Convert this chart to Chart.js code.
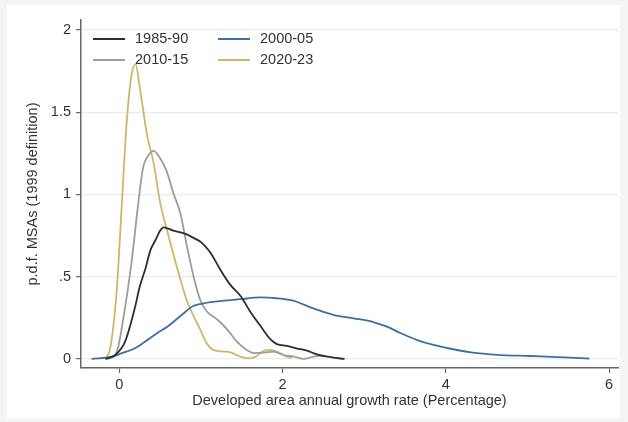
<!DOCTYPE html>
<html>
<head>
<meta charset="utf-8">
<script src="https://cdn.jsdelivr.net/npm/chart.js@4.4.1/dist/chart.umd.min.js"></script>
<style>
  html, body { margin: 0; padding: 0; background: #f4f4f4; }
  #wrap { width: 628px; height: 422px; }
</style>
</head>
<body>
<div id="wrap"><canvas id="c" width="628" height="422"></canvas></div>
<script>
// Kernel density of developed-area annual growth rate, by period
const periods = ['1985-90', '2000-05', '2010-15', '2020-23'];

const x1985 = [-0.17, -0.05, 0.07, 0.19, 0.25, 0.32, 0.38, 0.44, 0.50, 0.54, 0.66, 0.81, 0.93, 1.00, 1.11, 1.24, 1.36, 1.49, 1.60, 1.73, 1.85, 1.93, 2.05, 2.17, 2.30, 2.42, 2.55, 2.76];
const d1985 = [0, 0.024, 0.105, 0.31, 0.44, 0.55, 0.66, 0.72, 0.78, 0.80, 0.78, 0.76, 0.73, 0.71, 0.65, 0.54, 0.45, 0.38, 0.29, 0.20, 0.12, 0.09, 0.08, 0.065, 0.05, 0.028, 0.014, 0];

const x2000 = [-0.34, -0.09, 0.03, 0.19, 0.30, 0.46, 0.60, 0.77, 0.90, 1.00, 1.20, 1.48, 1.73, 1.93, 2.14, 2.26, 2.42, 2.63, 2.87, 3.12, 3.28, 3.45, 3.65, 3.85, 4.06, 4.31, 4.63, 5.04, 5.45, 5.76];
const d2000 = [0, 0.014, 0.035, 0.065, 0.10, 0.156, 0.20, 0.27, 0.32, 0.335, 0.35, 0.363, 0.374, 0.369, 0.353, 0.33, 0.30, 0.267, 0.247, 0.223, 0.196, 0.156, 0.115, 0.085, 0.062, 0.04, 0.025, 0.018, 0.01, 0.002];

const x2010 = [-0.17, -0.08, -0.02, 0.03, 0.15, 0.23, 0.29, 0.36, 0.42, 0.50, 0.58, 0.66, 0.75, 0.83, 0.91, 0.99, 1.07, 1.20, 1.32, 1.44, 1.56, 1.65, 1.77, 1.89, 2.01, 2.14, 2.26, 2.38, 2.50];
const d2010 = [0, 0.01, 0.06, 0.19, 0.59, 0.94, 1.16, 1.24, 1.265, 1.22, 1.14, 1.01, 0.88, 0.68, 0.50, 0.36, 0.29, 0.24, 0.18, 0.105, 0.055, 0.035, 0.038, 0.045, 0.024, 0.014, 0, 0.014, 0.02];

const x2020 = [-0.17, -0.11, -0.03, 0.03, 0.09, 0.15, 0.20, 0.25, 0.34, 0.42, 0.50, 0.58, 0.66, 0.75, 0.83, 0.91, 0.99, 1.07, 1.15, 1.28, 1.36, 1.48, 1.60, 1.67, 1.77, 1.85, 1.93, 2.05, 2.11];
const d2020 = [0, 0.07, 0.43, 0.94, 1.44, 1.73, 1.79, 1.65, 1.36, 1.19, 0.95, 0.79, 0.64, 0.48, 0.35, 0.26, 0.18, 0.095, 0.055, 0.045, 0.04, 0.014, 0.004, 0.014, 0.05, 0.055, 0.045, 0.014, 0.005];

const xTickValues = [0, 2, 4, 6];
const xTickLabels = ['0', '2', '4', '6'];
const yTickValues = [0, 0.5, 1, 1.5, 2];
const yTickLabels = ['0', '.5', '1', '1.5', '2'];

const xTitle = 'Developed area annual growth rate (Percentage)';
const yTitle = 'p.d.f. MSAs (1999 definition)';

const seriesX = [x1985, x2000, x2010, x2020];
const seriesY = [d1985, d2000, d2010, d2020];
const colors = ['#2e2e2e', '#3d6fa7', '#9c9c9c', '#cfb768'];

const FONT = 'Liberation Sans, Arial, Helvetica, sans-serif';
const TEXT = '#333333';

const datasets = periods.map((p, i) => ({
  label: p,
  data: seriesX[i].map((x, k) => ({ x: x, y: seriesY[i][k] })),
  borderColor: colors[i],
  borderWidth: 1.8,
  pointRadius: 0,
  fill: false,
  tension: 0.35,
  cubicInterpolationMode: 'monotone'
}));

// Page frame: light grey margin around a white panel
const framePlugin = {
  id: 'frame',
  beforeDraw(chart) {
    const ctx = chart.ctx;
    ctx.save();
    ctx.fillStyle = '#f4f4f4';
    ctx.fillRect(0, 0, chart.width, chart.height);
    ctx.fillStyle = '#ffffff';
    ctx.fillRect(7, 5, 613, 413);
    ctx.restore();
  }
};

// Two-column key placed inside the plot region, top left
const keyPlugin = {
  id: 'key',
  afterDatasetsDraw(chart) {
    const ctx = chart.ctx;
    const a = chart.chartArea;
    const colX = [a.left + 12, a.left + 137];
    const rowY = [a.top + 19, a.top + 40];
    ctx.save();
    ctx.font = '14.5px ' + FONT;
    ctx.textBaseline = 'middle';
    ctx.textAlign = 'left';
    chart.data.datasets.forEach((ds, i) => {
      const cx = colX[i % 2];
      const cy = rowY[Math.floor(i / 2)];
      ctx.strokeStyle = ds.borderColor;
      ctx.lineWidth = 2;
      ctx.beginPath();
      ctx.moveTo(cx, cy);
      ctx.lineTo(cx + 32, cy);
      ctx.stroke();
      ctx.fillStyle = TEXT;
      ctx.fillText(ds.label, cx + 42, cy);
    });
    ctx.restore();
  }
};

new Chart(document.getElementById('c'), {
  type: 'line',
  data: { datasets: datasets },
  options: {
    responsive: false,
    animation: false,
    devicePixelRatio: 1,
    layout: { padding: { top: 20, right: 10, left: 0, bottom: 0 } },
    plugins: {
      legend: { display: false },
      tooltip: { enabled: false }
    },
    scales: {
      x: {
        type: 'linear',
        min: -0.47,
        max: 6.11,
        afterBuildTicks: s => { s.ticks = xTickValues.map(v => ({ value: v })); },
        afterFit: s => { s.height = 54; },
        ticks: {
          callback: (v) => xTickLabels[xTickValues.indexOf(v)],
          color: TEXT,
          font: { family: FONT, size: 14.5 },
          padding: 3,
          maxRotation: 0
        },
        grid: { drawOnChartArea: false, drawTicks: true, tickLength: 5, tickColor: '#666666', tickWidth: 1.2 },
        border: { display: true, color: '#666666', width: 1.5 },
        title: {
          display: true,
          text: xTitle,
          color: TEXT,
          font: { family: FONT, size: 14.5 },
          padding: { top: 0, bottom: 12 }
        }
      },
      y: {
        type: 'linear',
        min: -0.055,
        max: 2.06,
        afterBuildTicks: s => { s.ticks = yTickValues.map(v => ({ value: v })); },
        afterFit: s => { s.width = 81; },
        ticks: {
          callback: (v) => yTickLabels[yTickValues.indexOf(v)],
          color: TEXT,
          font: { family: FONT, size: 14.5 },
          padding: 5
        },
        grid: { color: '#ebebeb', lineWidth: 1.2, drawTicks: true, tickLength: 5, tickColor: '#666666', tickWidth: 1.2 },
        border: { display: true, color: '#666666', width: 1.5 },
        title: {
          display: true,
          text: yTitle,
          color: TEXT,
          font: { family: FONT, size: 14.5 },
          padding: { top: 24, bottom: 0 }
        }
      }
    }
  },
  plugins: [framePlugin, keyPlugin]
});
</script>
</body>
</html>
